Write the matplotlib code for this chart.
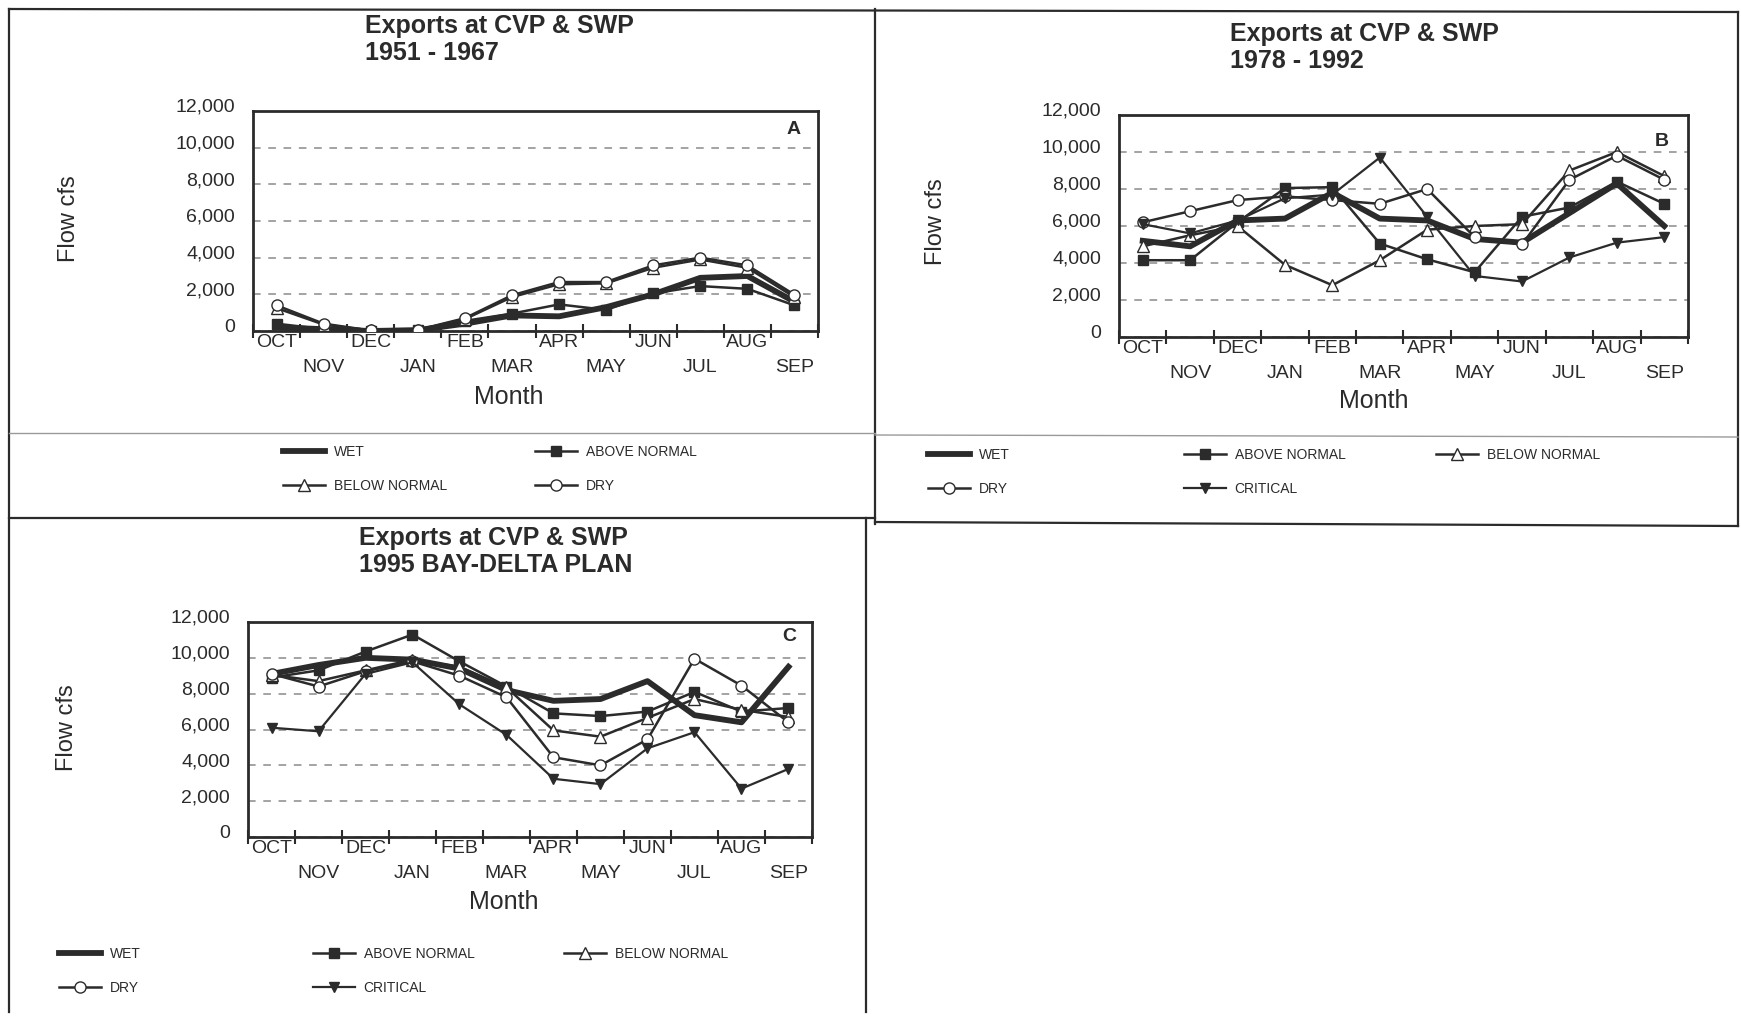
import matplotlib
matplotlib.use('Agg')
import matplotlib.pyplot as plt
from matplotlib.lines import Line2D
from matplotlib.transforms import ScaledTranslation
import numpy as np

plt.rcParams['font.family'] = ['Liberation Sans', 'DejaVu Sans']

# ---- data (cfs) ----
months = ['OCT', 'NOV', 'DEC', 'JAN', 'FEB', 'MAR', 'APR', 'MAY', 'JUN', 'JUL', 'AUG', 'SEP']
yticks = [0, 2000, 4000, 6000, 8000, 10000, 12000]

# A: 1951 - 1967
a_wet = [200, 100, 0, 50, 400, 850, 800, 1300, 2000, 2900, 3000, 1600]
a_above = [400, 100, 0, 50, 550, 950, 1450, 1150, 2050, 2450, 2300, 1400]
a_below = [1250, 350, 30, 60, 650, 1850, 2550, 2600, 3450, 3900, 3450, 1850]
a_dry = [1400, 400, 30, 60, 700, 1950, 2670, 2670, 3580, 4000, 3580, 1980]

# B: 1978 - 1992
b_wet = [5200, 4900, 6300, 6400, 7800, 6400, 6300, 5300, 5100, 6700, 8300, 6000]
b_above = [4150, 4150, 6200, 8050, 8100, 5050, 4200, 3500, 6500, 7000, 8400, 7200]
b_below = [4900, 5500, 6000, 3900, 2800, 4150, 5800, 6000, 6100, 9000, 10000, 8700]
b_dry = [6200, 6800, 7400, 7600, 7400, 7200, 8000, 5400, 5000, 8500, 9800, 8500]
b_critical = [6100, 5600, 6300, 7500, 7700, 9700, 6500, 3300, 3000, 4300, 5100, 5400]

# C: 1995 Bay-Delta plan
c_wet = [9100, 9600, 10000, 9900, 9400, 8200, 7600, 7700, 8700, 6800, 6400, 9500]
c_above = [8900, 9300, 10350, 11300, 9800, 8400, 6900, 6750, 7000, 8100, 7000, 7200]
c_below = [9050, 8700, 9300, 9900, 9500, 8350, 5950, 5600, 6650, 7700, 7100, 6700]
c_dry = [9100, 8400, 9250, 9800, 9000, 7800, 4450, 4000, 5450, 9950, 8450, 6400]
c_critical = [6100, 5900, 9100, 9750, 7400, 5700, 3250, 2950, 4950, 5850, 2700, 3800]

INK = '#2b2b2b'
W, H = 1741, 1022

fig = plt.figure(figsize=(W / 100, H / 100), dpi=100)
fig.patch.set_facecolor('white')


def px_rect(l, t, r, b):
    return [l / W, 1 - b / H, (r - l) / W, (b - t) / H]


def fig_line(x0, y0, x1, y1, lw=1.6, color=INK):
    fig.add_artist(Line2D([x0 / W, x1 / W], [1 - y0 / H, 1 - y1 / H],
                          transform=fig.transFigure, color=color, lw=lw))


styles = {
    'WET': dict(color=INK, lw=4.2, zorder=3),
    'ABOVE NORMAL': dict(color=INK, lw=1.8, marker='s', ms=7, mfc=INK, mec=INK, zorder=4),
    'BELOW NORMAL': dict(color=INK, lw=1.8, marker='^', ms=8, mfc='white', mec=INK, zorder=4),
    'DRY': dict(color=INK, lw=1.8, marker='o', ms=8, mfc='white', mec=INK, zorder=4),
    'CRITICAL': dict(color=INK, lw=1.6, marker='v', ms=7, mfc=INK, mec=INK, zorder=4),
}


def make_panel(rect, series, letter, letter_xy, ylab_xy, month_xy):
    ax = fig.add_axes(px_rect(*rect))
    x = np.arange(len(months))
    handles = {}
    for name, vals in series:
        h, = ax.plot(x, vals, label=name, **styles[name])
        handles[name] = h
    ax.set_xlim(-0.5, 11.5)
    ax.set_ylim(0, 12000)

    ax.set_yticks(yticks)
    ax.set_yticklabels([f'{v:,}' for v in yticks])
    ax.tick_params(axis='y', length=0, pad=13, labelsize=14, labelcolor=INK)
    off = ScaledTranslation(0, 4 / 72, fig.dpi_scale_trans)
    for lab in ax.get_yticklabels():
        lab.set_transform(lab.get_transform() + off)

    # month names on two staggered rows, tick marks on the category edges
    ax.set_xticks(x)
    ax.set_xticklabels([m if i % 2 == 0 else '\n' + m for i, m in enumerate(months)])
    for lab in ax.get_xticklabels():
        lab.set_linespacing(1.6)
    ax.set_xticks(np.arange(-0.5, 12, 1), minor=True)
    ax.tick_params(axis='x', which='major', length=0, pad=2, labelsize=14, labelcolor=INK)
    ax.tick_params(axis='x', which='minor', direction='inout', length=10, width=1.5, color=INK)

    ax.set_axisbelow(True)
    ax.yaxis.grid(True, ls=(0, (5, 5)), color='#8a8a8a', lw=1.1)
    for sp in ax.spines.values():
        sp.set_linewidth(2)
        sp.set_color(INK)

    ax.set_ylabel('Flow cfs', fontsize=17, color=INK)
    ax.yaxis.set_label_coords(*ylab_xy)
    ax.yaxis.label.set_va('center')
    ax.set_xlabel('Month', fontsize=18, color=INK)
    ax.xaxis.set_label_coords(*month_xy)
    ax.xaxis.label.set_va('center')

    ax.text(letter_xy[0], letter_xy[1], letter, transform=ax.transAxes,
            fontsize=14, fontweight='bold', color=INK, ha='center', va='center')
    return handles


def column_legend(hs, x, y_top):
    fig.legend(handles=hs, loc='upper left', bbox_to_anchor=(x / W, 1 - y_top / H),
               frameon=False, fontsize=10, handlelength=3.0, handletextpad=0.65,
               labelspacing=1.45, borderpad=0, borderaxespad=0, labelcolor=INK)


# ---- panel A ----
hA = make_panel((253, 111, 818, 331),
                [('WET', a_wet), ('ABOVE NORMAL', a_above),
                 ('BELOW NORMAL', a_below), ('DRY', a_dry)],
                'A', (0.957, 0.914), (-0.326, 0.51), (0.452, -0.3))
fig.text(365 / W, 1 - 14 / H, 'Exports at CVP & SWP\n1951 - 1967', fontsize=18,
         fontweight='bold', color=INK, ha='left', va='top', linespacing=1.15)
column_legend([hA['WET'], hA['BELOW NORMAL']], 283, 445)
column_legend([hA['ABOVE NORMAL'], hA['DRY']], 535, 445)

# ---- panel B ----
hB = make_panel((1119, 115, 1688, 337),
                [('WET', b_wet), ('ABOVE NORMAL', b_above), ('BELOW NORMAL', b_below),
                 ('DRY', b_dry), ('CRITICAL', b_critical)],
                'B', (0.953, 0.88), (-0.322, 0.52), (0.447, -0.29))
fig.text(1230 / W, 1 - 22 / H, 'Exports at CVP & SWP\n1978 - 1992', fontsize=18,
         fontweight='bold', color=INK, ha='left', va='top', linespacing=1.15)
column_legend([hB['WET'], hB['DRY']], 928, 448)
column_legend([hB['ABOVE NORMAL'], hB['CRITICAL']], 1184, 448)
column_legend([hB['BELOW NORMAL']], 1436, 448)

# ---- panel C ----
hC = make_panel((248, 622, 812, 837),
                [('WET', c_wet), ('ABOVE NORMAL', c_above), ('BELOW NORMAL', c_below),
                 ('DRY', c_dry), ('CRITICAL', c_critical)],
                'C', (0.96, 0.933), (-0.321, 0.51), (0.453, -0.3))
fig.text(359 / W, 1 - 526 / H, 'Exports at CVP & SWP\n1995 BAY-DELTA PLAN', fontsize=18,
         fontweight='bold', color=INK, ha='left', va='top', linespacing=1.15)
column_legend([hC['WET'], hC['DRY']], 59, 947)
column_legend([hC['ABOVE NORMAL'], hC['CRITICAL']], 313, 947)
column_legend([hC['BELOW NORMAL']], 564, 947)

# ---- page frame ----
fig_line(9, 9, 1738, 12)
fig_line(9, 9, 9, 1012)
fig_line(875, 9, 875, 524)
fig_line(9, 518, 875, 518)
fig_line(875, 522, 1738, 526)
fig_line(1738, 12, 1738, 526)
fig_line(866, 518, 866, 1012)
fig_line(9, 433, 875, 433, lw=1.0, color='#9a9a9a')
fig_line(875, 435, 1738, 437, lw=1.0, color='#9a9a9a')

fig.savefig('out.png', dpi=100, facecolor='white')
